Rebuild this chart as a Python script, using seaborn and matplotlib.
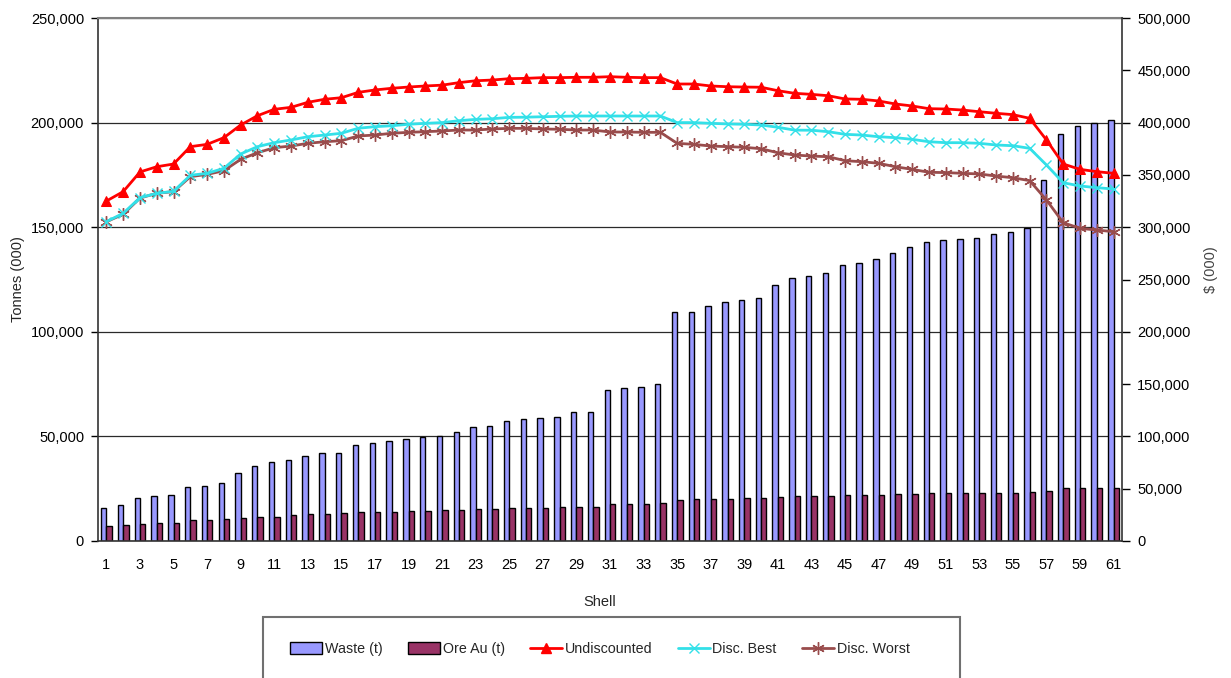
import numpy as np
import pandas as pd
import matplotlib
matplotlib.use("Agg")
import matplotlib.pyplot as plt
import seaborn as sns
from matplotlib.ticker import FuncFormatter, FixedLocator
from matplotlib.patches import Rectangle, Patch
from matplotlib.lines import Line2D

# ---------------- data ----------------
shells = list(range(1, 62))

waste = [15800, 17100, 20500, 21400, 22000, 25800, 26400, 27900, 32600, 35700,
         37900, 38900, 40600, 41900, 41900, 45900, 46800, 47800, 48800, 49600,
         50300, 52100, 54300, 54800, 57200, 58200, 58600, 59100, 61500, 61500,
         72300, 73300, 73800, 75200, 109300, 109300, 112300, 114200, 115200, 116200,
         122400, 125500, 126700, 127900, 131900, 132900, 134900, 137800, 140700, 143100,
         143900, 144200, 144700, 146600, 147500, 149800, 172600, 194500, 198200, 199700, 201400]

ore = [7200, 7800, 8300, 8800, 8800, 9900, 9900, 10400, 11100, 11600,
       11600, 12300, 12700, 12700, 13200, 13700, 13700, 13700, 14200, 14200,
       14700, 14700, 15100, 15100, 15600, 15600, 15600, 16100, 16100, 16100,
       17500, 17500, 17500, 18000, 19400, 19900, 19900, 19900, 20400, 20400,
       20900, 21400, 21400, 21400, 22000, 22000, 22000, 22500, 22500, 22900,
       22900, 22900, 22900, 22900, 22900, 23400, 23900, 25300, 25300, 25300, 25300]

undiscounted = [325000, 334000, 352800, 357800, 360400, 377000, 379200, 385600, 397700, 406600,
                412700, 414600, 419400, 422300, 423800, 428900, 431200, 432800, 434000, 435000,
                435800, 438200, 440000, 440700, 442000, 442300, 443000, 443000, 443300, 443300,
                443900, 443300, 443000, 443000, 436900, 436900, 435000, 434300, 434000, 433800,
                430500, 428000, 427000, 425700, 422600, 422300, 420700, 417800, 415900, 413300,
                413000, 412000, 410400, 408900, 407600, 404100, 383400, 360400, 355300, 353100, 351500]

disc_best = [305300, 313300, 328200, 332400, 334300, 349600, 351500, 356300, 370000, 377000,
             380800, 383400, 386500, 388100, 389800, 394600, 396100, 397000, 398400, 399300,
             400000, 401800, 403100, 403700, 405000, 405200, 405600, 406000, 406300, 406300,
             406300, 406300, 406300, 406300, 400000, 400000, 399300, 398700, 398400, 397700,
             395500, 392800, 392700, 391300, 388800, 388100, 386500, 385600, 384000, 381700,
             380800, 380800, 380200, 378600, 377900, 375400, 359500, 342500, 339400, 337800, 336500]

disc_worst = [305300, 312300, 327900, 332400, 334000, 348300, 350500, 354000, 364900, 371200,
              376000, 377600, 380200, 381700, 382700, 387200, 388100, 389800, 390700, 391300,
              392000, 392900, 392900, 393900, 394500, 394500, 393900, 393600, 392900, 392900,
              391000, 391000, 390700, 390700, 380200, 379200, 377600, 377000, 376400, 375000,
              371200, 369000, 368000, 367400, 363600, 362600, 361100, 357800, 355300, 352500,
              352200, 351500, 350900, 348900, 347300, 344500, 326000, 304300, 298900, 297300, 295700]

bar_series = ["Waste (t)", "Ore Au (t)"]
line_series = ["Undiscounted", "Disc. Best", "Disc. Worst"]

WASTE_C = "#9999FF"
ORE_C = "#993366"
UND_C = "#FF0000"
BEST_C = "#33E0E8"
WORST_C = "#994C4C"

# ---------------- style ----------------
sns.set_style("white")
plt.rcParams["font.family"] = ["Liberation Sans", "DejaVu Sans"]
plt.rcParams["font.size"] = 10

fig = plt.figure(figsize=(12.31, 6.78), dpi=100)
ax = fig.add_axes([98 / 1231, 1 - 541 / 678, 1024 / 1231, 523 / 678])

bars = pd.DataFrame({
    "Shell": shells * 2,
    "Series": [bar_series[0]] * len(shells) + [bar_series[1]] * len(shells),
    "Tonnes": waste + ore,
})

sns.barplot(data=bars, x="Shell", y="Tonnes", hue="Series", hue_order=bar_series,
            palette=[WASTE_C, ORE_C], native_scale=True, width=0.64, saturation=1,
            edgecolor="black", linewidth=1.0, errorbar=None, legend=False, ax=ax)

ax.set_xlim(0.5, 61.5)
ax.set_ylim(0, 250000)
ax.yaxis.set_major_locator(FixedLocator(np.arange(0, 250001, 50000)))
ax.yaxis.set_major_formatter(FuncFormatter(lambda v, p: f"{v:,.0f}"))
ax.set_axisbelow(True)
ax.yaxis.grid(True, color="#2a2a2a", linewidth=0.9)
ax.xaxis.grid(False)

ax.xaxis.set_major_locator(FixedLocator(shells[::2]))
ax.set_xticklabels([str(s) for s in shells[::2]])
ax.xaxis.set_minor_locator(FixedLocator(np.arange(0.5, 62, 1.0)))
ax.tick_params(axis="x", which="major", length=0, pad=12, labelsize=10.5, colors="black")
ax.tick_params(axis="x", which="minor", length=5, width=1, direction="out", color="#333333")
ax.tick_params(axis="y", which="major", length=5, width=1, direction="out", pad=5,
               labelsize=10.5, colors="black", left=True)

ax.set_xlabel("Shell", fontsize=10.5)
ax.xaxis.set_label_coords(0.49, -0.103)
ax.set_ylabel("Tonnes (000)", fontsize=10.5)
ax.yaxis.set_label_coords(-0.071, 0.5)

for s in ["left", "bottom"]:
    ax.spines[s].set_color("#333333")
    ax.spines[s].set_linewidth(1.2)
ax.spines["top"].set_color("#808080")
ax.spines["top"].set_linewidth(1.5)
ax.spines["right"].set_visible(False)

# ---------------- lines on secondary axis ----------------
ax2 = ax.twinx()
ax2.set_ylim(0, 500000)
sns.lineplot(x=shells, y=disc_worst, ax=ax2, color=WORST_C, lw=2, marker=(6, 2, 0),
             markersize=9, markeredgecolor=WORST_C, markeredgewidth=1.0)
sns.lineplot(x=shells, y=disc_best, ax=ax2, color=BEST_C, lw=2, marker="x",
             markersize=7, markeredgecolor=BEST_C, markeredgewidth=1.0)
sns.lineplot(x=shells, y=undiscounted, ax=ax2, color=UND_C, lw=2, marker="^",
             markersize=7, markeredgecolor=UND_C, markerfacecolor=UND_C)
ax2.set_xlim(0.5, 61.5)
ax2.yaxis.set_major_locator(FixedLocator(np.arange(0, 500001, 50000)))
ax2.yaxis.set_major_formatter(FuncFormatter(lambda v, p: f"{v:,.0f}"))
ax2.tick_params(axis="y", which="major", length=6, width=1, direction="out", pad=5,
                labelsize=10.5, colors="black", right=True)
ax2.set_ylabel("$ (000)", fontsize=10.5, color="#444444")
ax2.yaxis.set_label_coords(1.080, 0.518)
ax2.grid(False)
ax2.spines["right"].set_color("#333333")
ax2.spines["right"].set_linewidth(1.2)
for s in ["left", "top", "bottom"]:
    ax2.spines[s].set_visible(False)

# ---------------- legend ----------------
box = Rectangle((263 / 1231, -0.05), 697 / 1231, 0.05 + (1 - 617 / 678),
                transform=fig.transFigure, facecolor="white", edgecolor="#707070",
                linewidth=1.5, clip_on=False)
fig.patches.append(box)

handles = [
    Patch(facecolor=WASTE_C, edgecolor="black", linewidth=1.0),
    Patch(facecolor=ORE_C, edgecolor="black", linewidth=1.0),
    Line2D([], [], color=UND_C, lw=2, marker="^", markersize=7, markeredgecolor=UND_C),
    Line2D([], [], color=BEST_C, lw=2, marker="x", markersize=7, markeredgecolor=BEST_C),
    Line2D([], [], color=WORST_C, lw=2, marker=(6, 2, 0), markersize=9, markeredgecolor=WORST_C),
]
fig.legend(handles, bar_series + line_series, loc="center", ncol=5,
           bbox_to_anchor=(600 / 1231, 1 - 649 / 678), frameon=False,
           fontsize=10.3, handlelength=2.2, handleheight=0.9, handletextpad=0.2,
           columnspacing=1.8)

fig.savefig("out.png", dpi=100)
